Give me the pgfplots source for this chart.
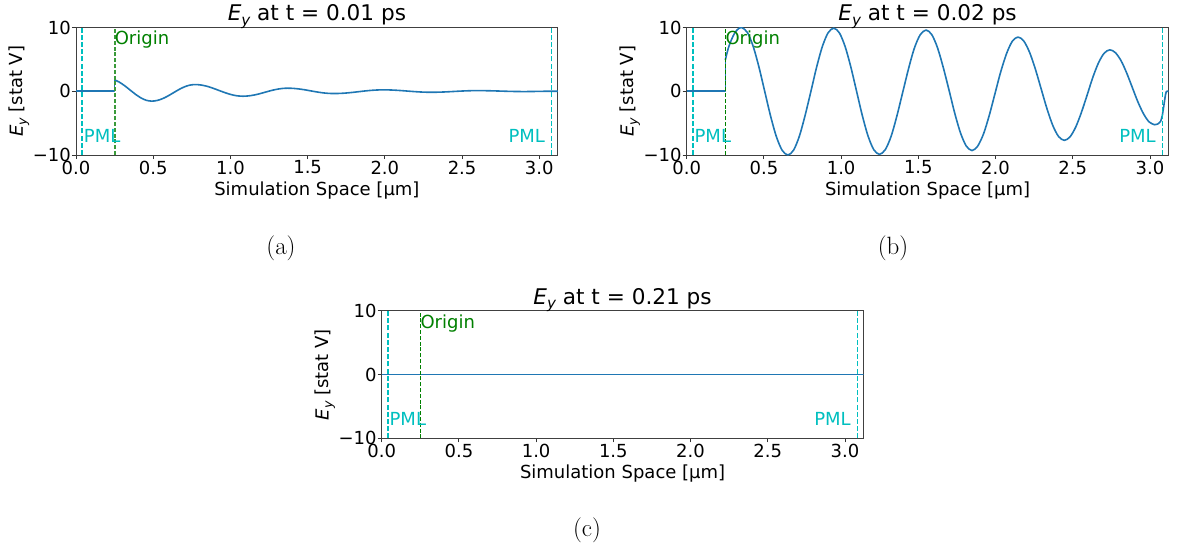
\documentclass[border=0pt]{standalone}
\usepackage{fontspec}
\usepackage{graphicx}
\usepackage{pgfplots}
\pgfplotsset{compat=1.18}
\newfontfamily\plotfont{DejaVu Sans}
\definecolor{mplblue}{HTML}{1F77B4}
\definecolor{mplcyan}{HTML}{00BFBF}
\definecolor{mplgreen}{HTML}{008000}
\definecolor{origa}{HTML}{3A9A3A}
% E_y in the sans-serif oblique, subscript at 70%
\newcommand{\Ey}{\textit{E}\raisebox{-0.2em}{\scalebox{0.7}{\itshape y}}}
\pgfplotsset{
  fieldax/.style={
    scale only axis, width=481.8pt, height=127.5pt,
    xmin=0, xmax=3.12, ymin=-10, ymax=10,
    xtick={0,0.5,1,1.5,2,2.5,3},
    xticklabels={0.0,0.5,1.0,1.5,2.0,2.5,3.0},
    ytick={-10,0,10}, yticklabels={−10,0,10},
    tick pos=left, tick align=outside, major tick length=4pt,
    major tick style={black!80, line width=0.9pt},
    axis line style={black!75, line width=0.9pt},
    font=\plotfont\fontsize{18}{21.6}\selectfont,
    tick label style={font=\plotfont\fontsize{18}{21.6}\selectfont},
    xticklabel style={anchor=north, inner sep=0pt, yshift=-1.5pt},
    yticklabel style={anchor=east, inner sep=0pt, xshift=-1pt},
    every axis title shift=0pt,
    title style={font=\plotfont\fontsize{21.6}{26}\selectfont,
      at={(axis description cs:0.5,1.0526)}, anchor=base},
    xlabel style={at={(axis description cs:0.5,-0.314)}, anchor=base},
    ylabel style={at={(axis description cs:-0.1101,0.5)}, anchor=base},
    xlabel={Simulation Space [µm]},
    ylabel={\Ey\ [stat V]},
  },
  field/.style={mplblue, line width=1.6pt, line join=round},
  pml/.style={color=mplcyan, line width=1.6pt, dash pattern=on 5pt off 2.2pt},
  orig/.style={color=mplgreen, line width=1.4pt, dash pattern=on 4pt off 1.8pt},
}
\begin{document}
\begin{tikzpicture}
\useasboundingbox (0,0) rectangle (1178pt,550pt);

% ---------------- t = 0.01 ps ----------------
\begin{axis}[fieldax, at={(76pt,395pt)}, anchor=south west,
  title={\Ey\ at t = 0.01 ps}]
\addplot[field] coordinates {(0,0) (0.25,0) (0.25,1.777)};
\addplot[field, smooth] coordinates {
(0.25,1.777)(0.28,1.437)(0.315,0.870)(0.35,0.200)(0.385,-0.470)(0.42,-1.037)(0.455,-1.417)(0.49,-1.55)
(0.525,-1.451)(0.56,-1.169)(0.595,-0.748)(0.63,-0.25)(0.665,0.248)(0.70,0.669)(0.735,0.951)(0.77,1.05)
(0.809,0.980)(0.848,0.782)(0.886,0.485)(0.925,0.135)(0.964,-0.215)(1.003,-0.512)(1.041,-0.710)(1.08,-0.78)
(1.116,-0.732)(1.153,-0.595)(1.189,-0.391)(1.225,-0.15)(1.261,0.091)(1.298,0.295)(1.334,0.432)(1.37,0.48)
(1.408,0.448)(1.445,0.357)(1.483,0.221)(1.52,0.06)(1.558,-0.101)(1.595,-0.237)(1.633,-0.328)(1.67,-0.36)
(1.71,-0.338)(1.75,-0.275)(1.79,-0.181)(1.83,-0.07)(1.87,0.041)(1.91,0.135)(1.95,0.198)(1.99,0.22)
(2.029,0.206)(2.068,0.164)(2.106,0.103)(2.145,0.03)(2.184,-0.043)(2.223,-0.104)(2.261,-0.146)(2.30,-0.16)
(2.3375,-0.150)(2.375,-0.122)(2.4125,-0.080)(2.45,-0.03)(2.4875,0.020)(2.525,0.062)(2.5625,0.090)(2.60,0.10)
(2.675,0.078)(2.75,0.025)(2.825,-0.028)(2.90,-0.05)(2.975,-0.03)(3.05,0.0)(3.12,0.0)};
\addplot[pml] coordinates {(0.04,-10) (0.04,10)};
\addplot[pml] coordinates {(3.08,-10) (3.08,10)};
\addplot[orig, color=origa, line width=1.8pt] coordinates {(0.25,-10) (0.25,10)};
\node[mplgreen, anchor=base west, inner sep=0pt] at (axis cs:0.25,7.3) {Origin};
\node[mplcyan, anchor=base west, inner sep=0pt] at (axis cs:0.05,-8) {PML};
\node[mplcyan, anchor=base west, inner sep=0pt] at (axis cs:2.8,-8) {PML};
\end{axis}

% ---------------- t = 0.02 ps ----------------
\begin{axis}[fieldax, at={(686.7pt,395pt)}, anchor=south west,
  title={\Ey\ at t = 0.02 ps}]
\addplot[field] coordinates {(0,0) (0.25,0) (0.25,4.9)};
\addplot[field, smooth] coordinates {
(0.25,4.9)(0.27,6.8)(0.29,8.1)(0.31,9.1)(0.33,9.7)(0.355,10.0)
(0.3925,9.239)(0.43,7.071)(0.4675,3.827)(0.505,0)(0.5425,-3.827)(0.58,-7.071)(0.6175,-9.239)(0.655,-10)
(0.692,-9.243)(0.729,-7.086)(0.766,-3.858)(0.804,-0.05)(0.841,3.758)(0.878,6.986)(0.915,9.143)(0.952,9.9)
(0.989,9.147)(1.026,7.000)(1.063,3.789)(1.100,0)(1.137,-3.789)(1.174,-7.000)(1.211,-9.147)(1.248,-9.9)
(1.286,-9.158)(1.324,-7.044)(1.361,-3.881)(1.399,-0.15)(1.437,3.581)(1.474,6.744)(1.512,8.858)(1.55,9.6)
(1.587,8.881)(1.624,6.832)(1.661,3.766)(1.699,0.15)(1.736,-3.466)(1.773,-6.532)(1.810,-8.581)(1.847,-9.3)
(1.884,-8.623)(1.922,-6.693)(1.959,-3.806)(1.996,-0.4)(2.033,3.006)(2.071,5.893)(2.108,7.823)(2.145,8.5)
(2.1825,7.884)(2.22,6.128)(2.2575,3.500)(2.295,0.4)(2.3325,-2.700)(2.37,-5.328)(2.4075,-7.084)(2.445,-7.7)
(2.482,-7.160)(2.519,-5.620)(2.556,-3.317)(2.593,-0.6)(2.629,2.117)(2.666,4.420)(2.703,5.960)(2.74,6.5)
(2.776,6.053)(2.813,4.779)(2.849,2.873)(2.885,0.625)(2.921,-1.623)(2.958,-3.529)(2.994,-4.803)(3.03,-5.25)
(3.05,-5.15)(3.07,-4.7)};
\addplot[field] coordinates {(3.07,-4.7)(3.08,-3.8)(3.09,-2.2)(3.10,-0.6)(3.105,-0.1)(3.11,0.0)(3.12,0.0)};
\addplot[pml] coordinates {(0.04,-10) (0.04,10)};
\addplot[pml] coordinates {(3.08,-10) (3.08,10)};
\addplot[orig] coordinates {(0.25,-10) (0.25,10)};
\node[mplgreen, anchor=base west, inner sep=0pt] at (axis cs:0.25,7.3) {Origin};
\node[mplcyan, anchor=base west, inner sep=0pt] at (axis cs:0.05,-8) {PML};
\node[mplcyan, anchor=base west, inner sep=0pt] at (axis cs:2.8,-8) {PML};
\end{axis}

% ---------------- t = 0.21 ps ----------------
\begin{axis}[fieldax, at={(381.7pt,111.7pt)}, anchor=south west,
  title={\Ey\ at t = 0.21 ps}]
\addplot[field] coordinates {(0,0) (0.25,0) (1.0,0) (2.0,0) (3.12,0)};
\addplot[pml] coordinates {(0.04,-10) (0.04,10)};
\addplot[pml] coordinates {(3.08,-10) (3.08,10)};
\addplot[orig] coordinates {(0.25,-10) (0.25,10)};
\node[mplgreen, anchor=base west, inner sep=0pt] at (axis cs:0.25,7.3) {Origin};
\node[mplcyan, anchor=base west, inner sep=0pt] at (axis cs:0.05,-8) {PML};
\node[mplcyan, anchor=base west, inner sep=0pt] at (axis cs:2.8,-8) {PML};
\end{axis}

% sub-figure captions
\node[font=\fontsize{25}{30}\selectfont, anchor=base] at (281pt,296pt) {(a)};
\node[font=\fontsize{25}{30}\selectfont, anchor=base] at (893pt,296pt) {(b)};
\node[font=\fontsize{25}{30}\selectfont, anchor=base] at (587pt,14pt) {(c)};
\end{tikzpicture}
\end{document}
